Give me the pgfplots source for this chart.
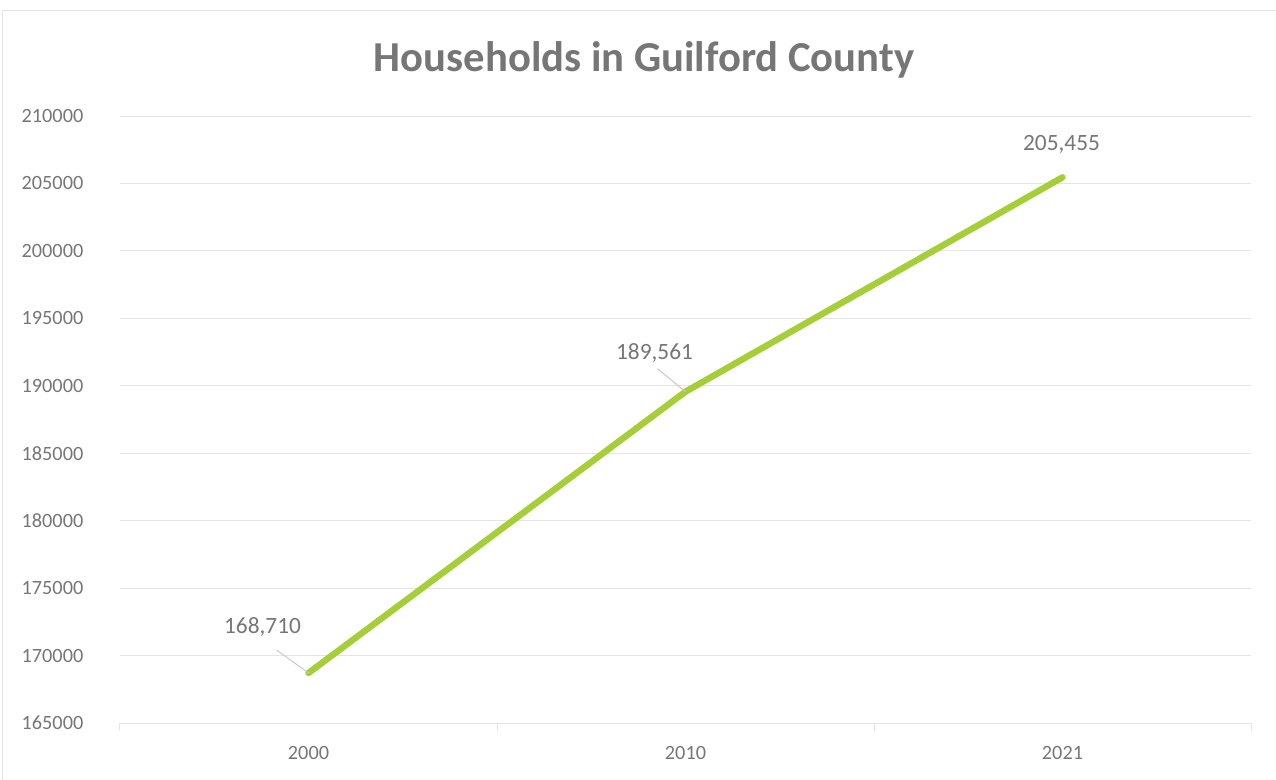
\documentclass[border=0pt]{standalone}
\usepackage{pgfplots}
\pgfplotsset{compat=1.18}
\usepackage{fontspec}
\setmainfont{Carlito}
\definecolor{txt}{RGB}{118,118,118}
\definecolor{grd}{RGB}{228,228,228}
\definecolor{lime}{RGB}{166,206,57}
\definecolor{lead}{RGB}{200,200,200}
\begin{document}
\begin{tikzpicture}[x=0.75pt,y=0.75pt]
\path[use as bounding box] (-120,-56) rectangle (1156,723);
\draw[grd,line width=0.75pt] (-117,-80) -- (-117,712) -- (1200,712);
\begin{axis}[
  at={(0,0)}, anchor=south west,
  scale only axis,
  width=848.25pt, height=455.25pt,
  xmin=-0.5, xmax=2.5,
  ymin=165000, ymax=210000,
  ytick={165000,170000,...,210000},
  scaled y ticks=false,
  xtick={0,1,2},
  xticklabels={2000,2010,2021},
  extra x ticks={-0.5,0.5,1.5,2.5},
  extra x tick labels={},
  extra x tick style={major tick length=6pt, tick style={grd,line width=0.75pt}, xtick pos=bottom, tick align=outside, grid=none},
  major tick length=0pt,
  ymajorgrids,
  grid style={grd,line width=0.75pt},
  axis x line*=bottom,
  axis y line*=left,
  x axis line style={grd,line width=0.75pt,-},
  y axis line style={draw=none},
  /pgf/number format/.cd, fixed, precision=0, 1000 sep={}, assume math mode=true,
  /pgfplots/.cd,
  ticklabel style={font=\fontsize{15.2pt}{18pt}\selectfont, text=txt},
  yticklabel style={anchor=east, xshift=-24pt},
  xticklabel style={yshift=-14pt},
  clip=false,
]
\addplot[lime, line width=4.8pt, line cap=round, line join=round] coordinates {
  (0,168710) (1,189561) (2,205455)
};
\draw[lead,line width=0.75pt] (axis cs:0,168710) -- ++(-24pt,17.25pt);
\draw[lead,line width=0.75pt] (axis cs:1,189561) -- ++(-21pt,17.25pt);
\node[text=txt,font=\fontsize{17.5pt}{20pt}\selectfont] at ([shift={(-34.5pt,34.5pt)}]axis cs:0,168710) {168,710};
\node[text=txt,font=\fontsize{17.5pt}{20pt}\selectfont] at ([shift={(-23.25pt,29.25pt)}]axis cs:1,189561) {189,561};
\node[text=txt,font=\fontsize{17.5pt}{20pt}\selectfont] at ([shift={(-0.75pt,24.75pt)}]axis cs:2,205455) {205,455};
\end{axis}
\node[text=txt,font=\fontsize{32pt}{36pt}\selectfont\bfseries] at (524,663) {Households in Guilford County};
\end{tikzpicture}
\end{document}
